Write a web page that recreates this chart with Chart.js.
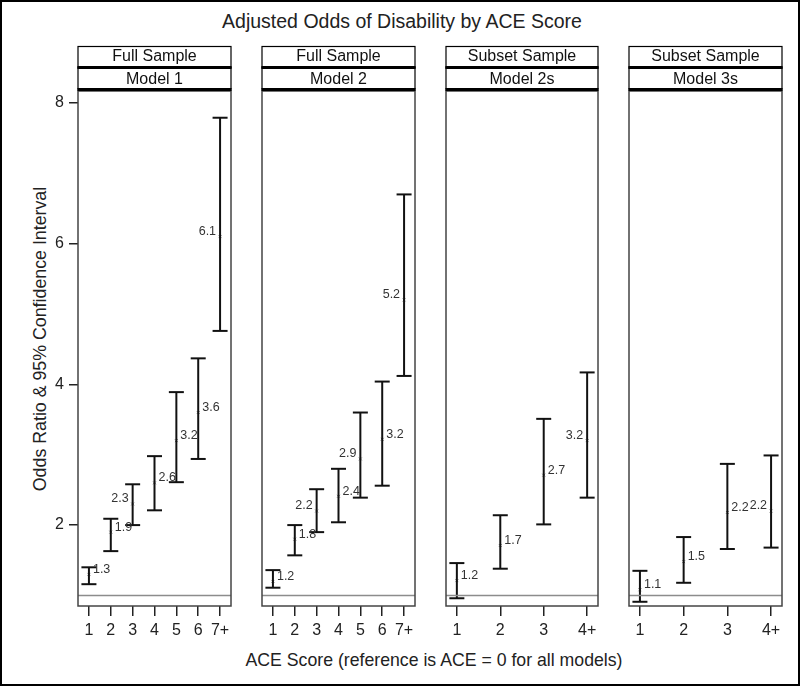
<!DOCTYPE html>
<html>
<head>
<meta charset="utf-8">
<script src="https://cdn.jsdelivr.net/npm/chart.js@4.4.1/dist/chart.umd.min.js"></script>
<style>
html, body { margin: 0; padding: 0; background: #fff; }
#frame { position: relative; width: 800px; height: 686px; overflow: hidden;
  font-family: "Liberation Sans", Arial, sans-serif; color: #222; }
#border { position: absolute; left: 0; top: 0; width: 800px; height: 686px;
  box-sizing: border-box; border: 2px solid #000; pointer-events: none; }
.panel { position: absolute; top: 0; height: 686px; }
.txt { position: absolute; white-space: nowrap; transform: translate(-50%, -50%); }
</style>
</head>
<body>
<div id="frame">
  <div class="txt" style="left:402px;top:21px;font-size:19.5px">Adjusted Odds of Disability by ACE Score</div>
  <div class="txt" style="left:40px;top:339px;font-size:17.8px;transform:translate(-50%,-50%) rotate(-90deg)">Odds Ratio &amp; 95% Confidence Interval</div>
  <div class="txt" style="left:434px;top:660px;font-size:17.7px">ACE Score (reference is ACE = 0 for all models)</div>
  <div id="border"></div>
</div>
<script>
// ACE score categories
var aceFull = ['1', '2', '3', '4', '5', '6', '7+'];
var aceSubset = ['1', '2', '3', '4+'];

// strip labels
var sampleNames = ['Full Sample', 'Full Sample', 'Subset Sample', 'Subset Sample'];
var modelNames = ['Model 1', 'Model 2', 'Model 2s', 'Model 3s'];

// odds ratios and 95% CI
var m1OR   = [1.30, 1.90, 2.30, 2.60, 3.20, 3.60, 6.10];
var m1Low  = [1.16, 1.63, 2.00, 2.21, 2.61, 2.94, 4.76];
var m1High = [1.40, 2.09, 2.58, 2.98, 3.89, 4.37, 7.79];

var m2OR   = [1.20, 1.80, 2.20, 2.41, 2.94, 3.22, 5.20];
var m2Low  = [1.11, 1.57, 1.90, 2.04, 2.39, 2.56, 4.12];
var m2High = [1.36, 2.00, 2.51, 2.80, 3.60, 4.04, 6.70];

var m2sOR   = [1.21, 1.71, 2.71, 3.20];
var m2sLow  = [0.96, 1.38, 2.01, 2.39];
var m2sHigh = [1.46, 2.14, 3.51, 4.17];

var m3sOR   = [1.08, 1.48, 2.18, 2.20];
var m3sLow  = [0.91, 1.18, 1.66, 1.68];
var m3sHigh = [1.35, 1.83, 2.87, 2.99];

var yTicks = [2, 4, 6, 8];
var refValue = 1;

// label placement (left/right of the point)
var sides = [
    ['r', 'r', 'l', 'r', 'r', 'r', 'l'],
    ['r', 'r', 'l', 'r', 'l', 'r', 'l'],
    ['r', 'r', 'r', 'l'],
    ['r', 'r', 'r', 'l']
];

var panelBox = [[78, 231], [262, 415], [446, 598], [629, 782]];
var FONT = '"Liberation Sans", Arial, sans-serif';

function makePanel(idx, labels, or, low, high) {
    var L = panelBox[idx][0], R = panelBox[idx][1];
    var first = idx === 0;
    var padL = first ? 0 : 12;
    var left = first ? 0 : L - padL;
    var width = R - left + 12;
    var n = labels.length;
    var xMin = n === 7 ? 0.5 : 0.75;
    var xMax = n === 7 ? n + 0.5 : n + 0.25;

    var div = document.createElement('div');
    div.className = 'panel';
    div.style.left = left + 'px';
    div.style.width = width + 'px';
    var cv = document.createElement('canvas');
    div.appendChild(cv);
    document.getElementById('frame').insertBefore(div, document.getElementById('border'));

    var datasets = [];
    datasets.push({
        type: 'line',
        data: [{x: xMin, y: refValue}, {x: xMax, y: refValue}],
        borderColor: '#8c8c8c', borderWidth: 1.5, pointRadius: 0
    });
    for (var i = 0; i < n; i++) {
        datasets.push({
            type: 'line',
            data: [{x: i + 1, y: low[i]}, {x: i + 1, y: high[i]}],
            borderColor: '#111', borderWidth: 2, pointRadius: 0
        });
    }
    var caps = [];
    for (var j = 0; j < n; j++) {
        caps.push({x: j + 1, y: low[j]});
        caps.push({x: j + 1, y: high[j]});
    }
    datasets.push({
        type: 'scatter', data: caps, pointStyle: 'line',
        pointRadius: 7.5, borderWidth: 2, borderColor: '#111', backgroundColor: '#111'
    });
    datasets.push({
        type: 'scatter',
        data: or.map(function (v, k) { return {x: k + 1, y: v}; }),
        pointStyle: 'crossRot', pointRadius: 2, borderWidth: 1, borderColor: '#777'
    });

    var decor = {
        id: 'decor',
        afterDatasetsDraw: function (chart) {
            var ctx = chart.ctx, a = chart.chartArea;
            var xs = chart.scales.x, ys = chart.scales.y;
            ctx.save();
            // value labels
            ctx.font = '12.5px ' + FONT;
            ctx.fillStyle = '#333';
            ctx.textBaseline = 'middle';
            or.forEach(function (v, k) {
                var px = xs.getPixelForValue(k + 1), py = ys.getPixelForValue(v);
                var s = sides[idx][k];
                ctx.textAlign = s === 'l' ? 'right' : 'left';
                ctx.fillText(v.toFixed(1), s === 'l' ? px - 4 : px + 4, py - 5);
            });
            // panel border
            ctx.strokeStyle = '#444';
            ctx.lineWidth = 1.5;
            ctx.strokeRect(a.left, a.top, a.right - a.left, a.bottom - a.top);
            // strips
            var w = a.right - a.left;
            ctx.fillStyle = '#fff';
            ctx.fillRect(a.left, 46, w, 45);
            ctx.strokeStyle = '#000';
            ctx.lineWidth = 1.2;
            ctx.strokeRect(a.left, 46.5, w, 21);
            ctx.strokeRect(a.left, 68, w, 21);
            ctx.fillStyle = '#000';
            ctx.fillRect(a.left - 0.6, 66, w + 1.2, 3);
            ctx.fillRect(a.left - 0.6, 88, w + 1.2, 3);
            ctx.font = '16px ' + FONT;
            ctx.fillStyle = '#111';
            ctx.textAlign = 'center';
            ctx.fillText(sampleNames[idx], a.left + w / 2, 57);
            ctx.fillText(modelNames[idx], a.left + w / 2, 79.5);
            ctx.restore();
        }
    };

    var yScale = {
        type: 'linear', min: 0.85, max: 8.17,
        afterBuildTicks: function (s) {
            s.ticks = yTicks.map(function (v) { return {value: v}; });
        },
        ticks: {font: {size: 16, family: FONT}, color: '#222', padding: 5},
        grid: {drawOnChartArea: false, drawTicks: true, tickLength: 9,
            tickColor: '#222', lineWidth: 1.5},
        border: {display: false}
    };
    if (first) {
        yScale.afterFit = function (s) { s.width = L; };
    } else {
        yScale.display = false;
    }

    new Chart(cv.getContext('2d'), {
        type: 'scatter',
        data: {datasets: datasets},
        options: {
            responsive: true,
            maintainAspectRatio: false,
            animation: false,
            events: [],
            layout: {padding: {top: 91, left: padL, right: 12, bottom: 40}},
            plugins: {legend: {display: false}, tooltip: {enabled: false}},
            scales: {
                x: {
                    type: 'linear', min: xMin, max: xMax,
                    afterBuildTicks: function (s) {
                        s.ticks = labels.map(function (_, k) { return {value: k + 1}; });
                    },
                    afterFit: function (s) { s.height = 40; },
                    ticks: {
                        callback: function (v) { return labels[v - 1]; },
                        font: {size: 16, family: FONT}, color: '#222',
                        padding: 5, maxRotation: 0, autoSkip: false
                    },
                    grid: {drawOnChartArea: false, drawTicks: true, tickLength: 10,
                        tickColor: '#222', lineWidth: 1.5},
                    border: {display: false}
                },
                y: yScale
            }
        },
        plugins: [decor]
    });
}

makePanel(0, aceFull, m1OR, m1Low, m1High);
makePanel(1, aceFull, m2OR, m2Low, m2High);
makePanel(2, aceSubset, m2sOR, m2sLow, m2sHigh);
makePanel(3, aceSubset, m3sOR, m3sLow, m3sHigh);
</script>
</body>
</html>
